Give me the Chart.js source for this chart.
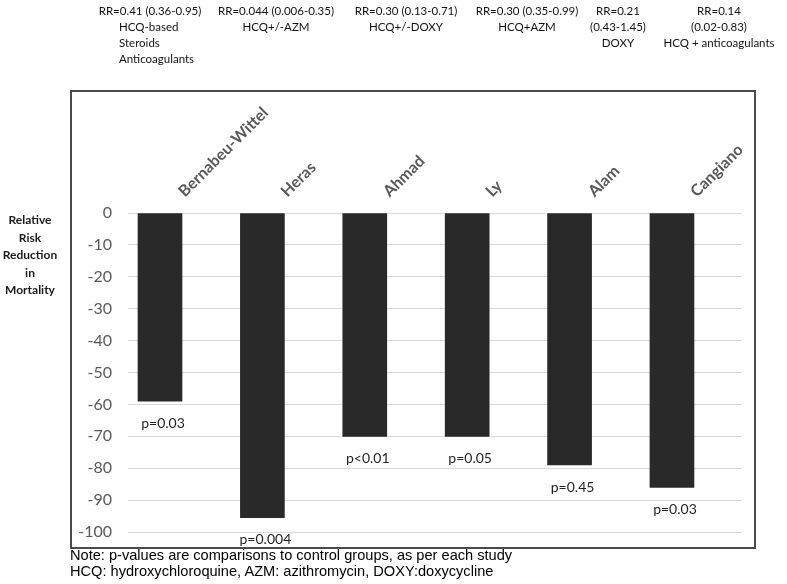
<!DOCTYPE html>
<html><head><meta charset="utf-8">
<script src="https://cdn.jsdelivr.net/npm/chart.js@4.4.0/dist/chart.umd.min.js"></script>
<style>
html,body{margin:0;padding:0;background:#fff;}
#wrap{position:relative;width:787px;height:584px;overflow:hidden;background:#fff;}
#c{position:absolute;left:0;top:0;}
#box{position:absolute;left:70px;top:90px;width:686px;height:459px;box-sizing:border-box;border:2px solid #4a4a4a;pointer-events:none;}
.ann{position:absolute;top:3px;font-family:Lato,sans-serif;font-size:11.5px;line-height:16px;color:#111;white-space:nowrap;text-align:center;transform:translateX(-50%);}
.annL{position:absolute;font-family:Lato,sans-serif;font-size:11.5px;line-height:16px;color:#111;white-space:nowrap;}
#ytitle{position:absolute;left:0;top:211px;width:60px;text-align:center;font-family:Lato,sans-serif;font-weight:bold;font-size:12px;line-height:17.5px;color:#1a1a1a;}
#notes{position:absolute;left:70px;top:548px;font-family:"Liberation Sans",Arial,sans-serif;font-size:14.6px;line-height:15.5px;color:#000;white-space:nowrap;}
</style></head><body>
<div id="wrap">
<canvas id="c" width="787" height="584"></canvas>
<div id="box"></div>
<div id="ytitle"></div>
<div id="notes"></div>
</div>
<script>
// ---- data ----
const categories = ["Bernabeu-Wittel", "Heras", "Ahmad", "Ly", "Alam", "Cangiano"];
const mortalityReduction = [-59, -95.5, -70, -70, -79, -86];
const pValues = ["p=0.03", "p=0.004", "p<0.01", "p=0.05", "p=0.45", "p=0.03"];
const rrLabels = [
  ["RR=0.41 (0.36-0.95)", "HCQ-based", "Steroids", "Anticoagulants"],
  ["RR=0.044 (0.006-0.35)", "HCQ+/-AZM"],
  ["RR=0.30 (0.13-0.71)", "HCQ+/-DOXY"],
  ["RR=0.30 (0.35-0.99)", "HCQ+AZM"],
  ["RR=0.21", "(0.43-1.45)", "DOXY"],
  ["RR=0.14", "(0.02-0.83)", "HCQ + anticoagulants"]
];
const yAxisTitle = ["Relative", "Risk", "Reduction", "in", "Mortality"];
const footnotes = [
  "Note: p-values are comparisons to control groups, as per each study",
  "HCQ: hydroxychloroquine, AZM: azithromycin, DOXY:doxycycline"
];

// ---- text overlays ----
const wrap = document.getElementById('wrap');
const annCenters = [150, 276, 406, 527, 618, 719];
rrLabels.forEach((lines, i) => {
  if (i === 0) {
    const d1 = document.createElement('div');
    d1.className = 'ann';
    d1.style.left = annCenters[0] + 'px';
    d1.textContent = lines[0];
    wrap.appendChild(d1);
    const d2 = document.createElement('div');
    d2.className = 'annL';
    d2.style.left = '119px';
    d2.style.top = '19px';
    d2.innerHTML = lines.slice(1).join('<br>');
    wrap.appendChild(d2);
  } else {
    const d = document.createElement('div');
    d.className = 'ann';
    d.style.left = annCenters[i] + 'px';
    d.innerHTML = lines.join('<br>');
    wrap.appendChild(d);
  }
});
document.getElementById('ytitle').innerHTML = yAxisTitle.join('<br>');
document.getElementById('notes').innerHTML = footnotes.join('<br>');

// ---- chart ----
const pLabelPlugin = {
  id: 'pLabels',
  afterDatasetsDraw(chart) {
    const ctx = chart.ctx;
    const meta = chart.getDatasetMeta(0);
    ctx.save();
    ctx.font = '14px Lato, sans-serif';
    ctx.fillStyle = '#1f1f1f';
    ctx.textAlign = 'center';
    ctx.textBaseline = 'middle';
    meta.data.forEach((bar, i) => {
      ctx.fillText(pValues[i], bar.x + 3, bar.y + 22);
    });
    ctx.restore();
  }
};

new Chart(document.getElementById('c'), {
  type: 'bar',
  data: {
    datasets: [{
      data: categories.map((c, i) => ({ x: i, y: mortalityReduction[i] })),
      backgroundColor: '#292929',
      borderWidth: 0,
      barThickness: 44
    }]
  },
  options: {
    responsive: false,
    animation: false,
    devicePixelRatio: 1,
    layout: { autoPadding: false, padding: { left: 0, top: 0, right: 45, bottom: 52 } },
    plugins: { legend: { display: false }, tooltip: { enabled: false } },
    scales: {
      x: {
        type: 'linear',
        position: 'top',
        min: -0.3125,
        max: 5.684,
        offset: false,
        grid: { display: false, drawTicks: false },
        border: { display: false },
        afterBuildTicks: (s) => { s.ticks = categories.map((c, i) => ({ value: i })); },
        afterFit: (s) => { s.height = 213; },
        ticks: {
          autoSkip: false,
          minRotation: 45,
          maxRotation: 45,
          padding: 12,
          labelOffset: 35,
          color: '#595959',
          font: { family: 'Lato', size: 16, weight: 'bold' },
          callback: (v) => categories[v]
        }
      },
      y: {
        min: -100,
        max: 0,
        grid: { color: '#d9d9d9', lineWidth: 1, drawTicks: false },
        border: { display: false },
        afterFit: (s) => { s.width = 128; },
        ticks: {
          stepSize: 10,
          padding: 16,
          color: '#595959',
          font: { family: 'Lato', size: 16 }
        }
      }
    }
  },
  plugins: [pLabelPlugin]
});
</script>
</body></html>
